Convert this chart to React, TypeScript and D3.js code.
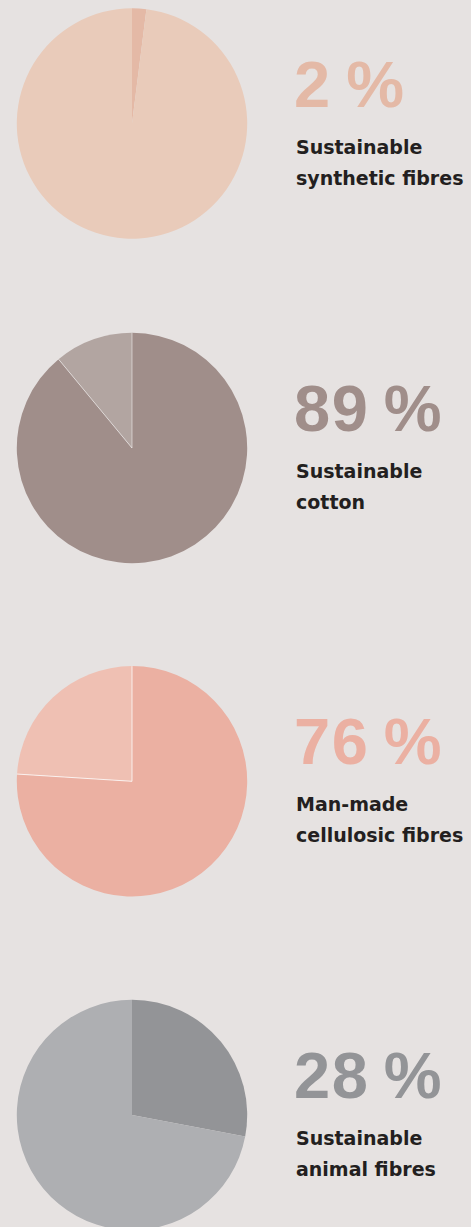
import React from "react";
import * as d3 from "d3";

const percentages = [2, 89, 76, 28];
const labelLine1 = ["Sustainable", "Sustainable", "Man-made", "Sustainable"];
const labelLine2 = ["synthetic fibres", "cotton", "cellulosic fibres", "animal fibres"];
const shareColors = ["#e4b9a6", "#a08e8a", "#ebb0a2", "#939497"];
const restColors = ["#e9cbba", "#b2a5a1", "#efc0b3", "#aeafb2"];
const sliceStrokes = [0, 0.6, 0.9, 0];

const W = 471;
const H = 1227;
const centersY = [123.5, 448, 781.3, 1115];
const cx = 132;
const R = 115.2;
const textX = 296;

export default function App() {
  const pie = d3.pie<number>().sort(null).value((d) => d);
  const arc = d3.arc<d3.PieArcDatum<number>>().innerRadius(0).outerRadius(R);

  return (
    <svg
      width={W}
      height={H}
      style={{ position: "absolute", left: 0, top: 0, display: "block" }}
    >
      <rect x={0} y={0} width={W} height={H} fill="#e6e2e1" />
      {percentages.map((p, i) => {
        const arcs = pie([p, 100 - p]);
        const cy = centersY[i];
        return (
          <g key={i}>
            <g transform={`translate(${cx},${cy})`}>
              {arcs.map((a, j) => (
                <path
                  key={j}
                  d={arc(a) || ""}
                  fill={j === 0 ? shareColors[i] : restColors[i]}
                />
              ))}
              {sliceStrokes[i] > 0 &&
                arcs.map((a, j) => (
                  <line
                    key={`l${j}`}
                    x1={0}
                    y1={0}
                    x2={R * Math.sin(a.startAngle)}
                    y2={-R * Math.cos(a.startAngle)}
                    stroke="#ffffff"
                    strokeOpacity={0.85}
                    strokeWidth={sliceStrokes[i]}
                  />
                ))}
            </g>
            <text
              x={textX - 2}
              y={cy - 17}
              fill={shareColors[i]}
              fontFamily="'Liberation Sans', Arial, sans-serif"
              fontWeight={700}
              fontSize={65}
              letterSpacing={1.5}
            >
              {`${p}\u2009%`}
            </text>
            <text
              x={textX}
              y={cy + 30}
              fill="#231f20"
              fontFamily="'DejaVu Sans', sans-serif"
              fontWeight={700}
              fontSize={19}
            >
              {labelLine1[i]}
            </text>
            <text
              x={textX}
              y={cy + 61}
              fill="#231f20"
              fontFamily="'DejaVu Sans', sans-serif"
              fontWeight={700}
              fontSize={19}
            >
              {labelLine2[i]}
            </text>
          </g>
        );
      })}
    </svg>
  );
}
